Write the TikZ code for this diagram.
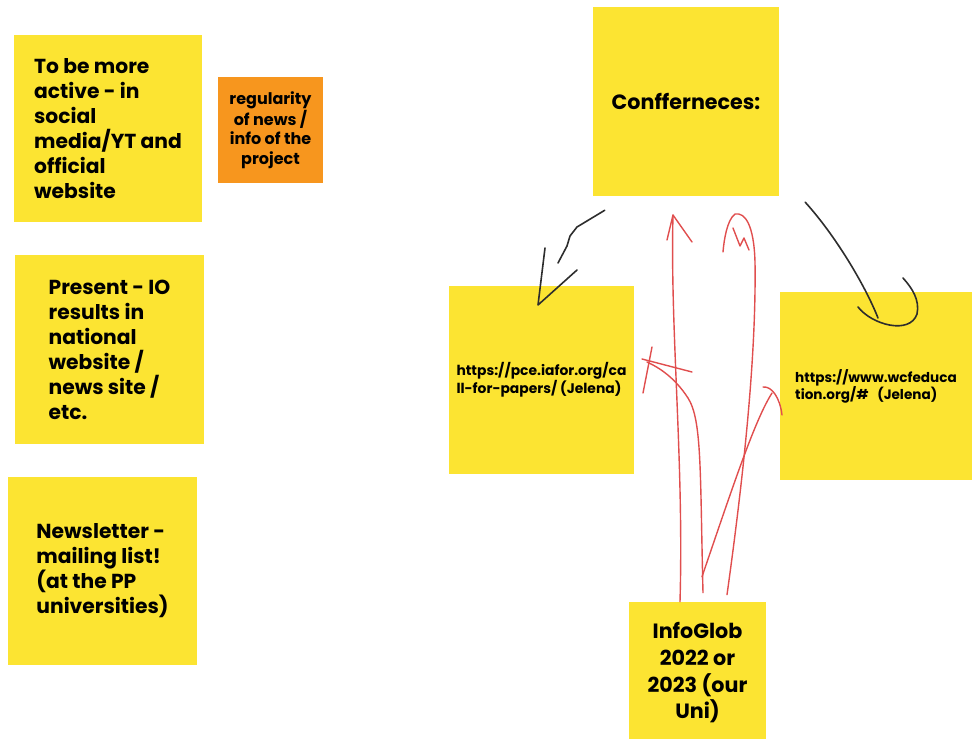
\documentclass[tikz,border=0pt]{standalone}
\usepackage{fontspec}
\setmainfont{Poppins}
\usepackage{xcolor}
\usetikzlibrary{
		calc,
		positioning,
		arrows.meta
	}
\definecolor{postit}{RGB}{252,228,50}
\definecolor{postor}{RGB}{247,150,30}
\definecolor{pen}{RGB}{45,45,45}
\definecolor{redpen}{RGB}{224,78,78}
\tikzset{
		>=stealth,
		note/.style={fill=postit, inner sep=0pt, align=left, font=\bfseries\fontsize{15.2}{18.75}\selectfont},
		ink/.style={pen, line width=1.2pt, line cap=round, line join=round},
		redink/.style={redpen, line width=1.05pt, line cap=round, line join=round}
	}

\begin{document}
\begin{tikzpicture}[x=0.75pt, y=-0.75pt] % one unit = one pixel of the board, y going down
	\useasboundingbox (0,0) rectangle (972,739);
	% left column of notes
	\node[note, minimum width=141pt, minimum height=140.25pt] (active) at (108,128.5) {To be more\\active - in\\social\\media/YT and\\official\\website};
	\node[note, fill=postor, align=center, minimum width=78.75pt, minimum height=79.5pt, font=\bfseries\fontsize{12}{14.6}\selectfont] (regular) at (270.5,130) {regularity\\of news /\\info of the\\project};
	\node[note, minimum width=141.75pt, minimum height=141.75pt] (present) at (109.5,349.5) {Present - IO\\results in\\national\\website /\\news site /\\etc.};
	\node[note, minimum width=141.75pt, minimum height=141pt] (newsletter) at (102.5,571) {Newsletter -\\mailing list!\\(at the PP\\universities)};
	% conferences
	\node[note, minimum width=139.5pt, minimum height=141.75pt, font=\bfseries\fontsize{15.5}{18.75}\selectfont] (conf) at (686,101.5) {Confferneces:};
	\node[note, minimum width=138.75pt, minimum height=141pt, font=\bfseries\fontsize{10.4}{11.3}\selectfont] (iafor) at (541.5,380) {https://pce.iafor.org/ca\\ll-for-papers/ (Jelena)};
	\node[note, minimum width=144pt, minimum height=141pt, font=\bfseries\fontsize{10.2}{12.7}\selectfont] (wcf) at (876,386) {https://www.wcfeduca\\tion.org/\#\ \ \ (Jelena)};
	\node[note, align=center, minimum width=102.75pt, minimum height=106.5pt, font=\bfseries\fontsize{15.5}{20}\selectfont] (info) at (697.5,673) {InfoGlob\\2022 or\\2023 (our\\Uni)};
	% black pen
	\coordinate (t5) at (538,305);
	\coordinate (t6) at (878,318);
	\draw[ink] ($(conf.south west)+(12,14)$) -- (577,227) -- (570,236) -- (567,246) -- (558,263);
	\draw[ink] (545,248) -- (t5) -- (577,270);
	\draw[ink] ($(conf.south east)+(26,6)$) .. controls (835,235) and (865,285) .. (t6);
	\draw[ink] (858,307) .. controls (872,325) and (910,335) .. (917,314) .. controls (920,300) and (912,288) .. (903,278);
	% red pen
	\coordinate (t1) at (673,215);
	\coordinate (t2) at (735,214);
	\coordinate (t3) at (647,362);
	\coordinate (t4) at (772,393);
	\draw[redink] ($(info.north)+(-17.5,0)$) .. controls (684,460) and (670,330) .. (t1);
	\draw[redink] (667,240) -- (t1) -- (692,242);
	\draw[redink] ($(info.north)+(29.5,-7)$) .. controls (750,430) and (756,330) .. (755,262) .. controls (754,225) and (745,212) .. (t2) .. controls (727,220) and (724,240) .. (723,252);
	\draw[redink] (733,228) -- (740,246) -- (744,238) -- (749,250);
	\draw[redink] ($(info.north)+(5.5,-9)$) .. controls (700,470) and (702,420) .. (688,398) .. controls (675,378) and (660,368) .. (t3);
	\draw[redink] (652,347) -- (643,393);
	\draw[redink] (642,359) -- (692,372);
	\draw[redink] ($(info.north)+(4.5,-25)$) .. controls (735,480) and (755,420) .. (t4);
	\draw[redink] (763,387) .. controls (772,386) and (780,398) .. (782,415);
\end{tikzpicture}
\end{document}
